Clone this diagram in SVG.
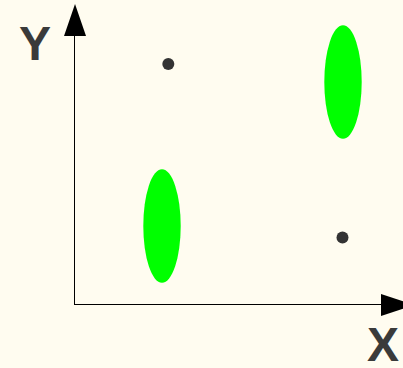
<svg xmlns="http://www.w3.org/2000/svg" width="403" height="368" viewBox="0 0 403 368">
<style>
.axis{stroke:#000;stroke-width:1;fill:none}
.lbl{font-family:"Liberation Sans",Arial,sans-serif;font-weight:bold;font-size:48px;fill:#3a3a3a}
.blob{fill:#00ff00}
.dot{fill:#333}
</style>
<rect width="403" height="368" fill="#fffcf0"/>
<g id="connectors">
<line class="axis" x1="74.5" y1="305" x2="74.5" y2="34"/>
<polygon points="75,4 64,36 86,36" fill="#000"/>
<line class="axis" x1="74" y1="304.5" x2="382" y2="304.5"/>
<polygon points="381,294 381,316 414,305" fill="#000"/>
</g>
<g id="label-y"><text class="lbl" x="19" y="60">Y</text></g>
<g id="label-x"><text class="lbl" x="367" y="361">X</text></g>
<g id="ellipse-1"><ellipse class="blob" cx="162" cy="226" rx="18.7" ry="56.7"/></g>
<g id="ellipse-2"><ellipse class="blob" cx="343" cy="82" rx="18.7" ry="56.7"/></g>
<g id="dot-1"><circle class="dot" cx="168.3" cy="64" r="6"/></g>
<g id="dot-2"><circle class="dot" cx="342.5" cy="237.5" r="6"/></g>
</svg>
